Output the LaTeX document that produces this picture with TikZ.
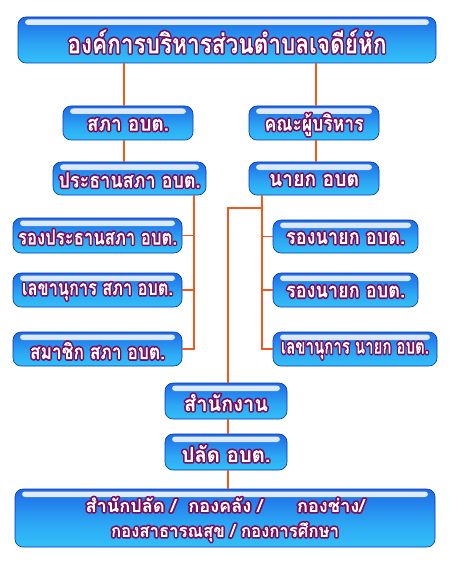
\documentclass[tikz,border=0pt]{standalone}
\usepackage{fontspec}
\usepackage{graphicx}
\newfontfamily\thai[Script=Thai]{Loma}
\usetikzlibrary{calc}
\definecolor{linec}{HTML}{EE5A1E}
\definecolor{btop}{HTML}{0632B4}
\definecolor{bmid}{HTML}{1E6AE8}
\definecolor{bbot}{HTML}{36D0FC}
\pgfdeclareverticalshading{gboxshade}{100bp}{color(0bp)=(bbot!85!btop); color(12bp)=(bbot); color(45bp)=(bbot!60!bmid); color(75bp)=(bmid); color(92bp)=(btop!70!bmid); color(100bp)=(btop)}
% outlined text: purple stroke + glyph clip (render mode 5), then white fill inside the glyphs
\newcommand\OL[2]{\raisebox{-1.5pt}[\height][\depth]{\resizebox{#1}{\height}{\color{white}\special{pdf:literal direct 5 Tr 3.4 w 1 j 1 J 0.478 0.039 0.369 RG}#2\special{pdf:content 1 g -3000 -3000 6000 6000 re f}}}}
\tikzset{
  gbox/.style={rectangle, rounded corners=8pt, draw=btop, line width=0.6pt,
    shading=gboxshade,
    inner sep=0pt, font=\thai\bfseries\fontsize{21}{23}\selectfont,
    path picture={\shade[top color=white, bottom color=white!55!bmid, opacity=0.9, rounded corners=3pt]
      ([xshift=7pt,yshift=-2.5pt]path picture bounding box.north west) rectangle
      ([xshift=-7pt,yshift=-8pt]path picture bounding box.north east);}},
  conn/.style={draw=linec, line width=1.8pt}
}
\begin{document}
\begin{tikzpicture}[x=1pt,y=-1pt]
\useasboundingbox (0,0) rectangle (450,564);
\coordinate (xa) at (124,0);
\coordinate (xb) at (316,0);
\coordinate (xl) at (194,0);
\coordinate (xr) at (262,0);
\coordinate (xc) at (228,0);
\coordinate (yj) at (0,208);
% nodes
\node[gbox, minimum width=418pt, minimum height=46pt, font=\thai\bfseries\fontsize{27}{29}\selectfont] (title) at (227,40) {\OL{319pt}{องค์การบริหารส่วนตำบลเจดีย์หัก}};
\node[gbox, minimum width=130pt, minimum height=34pt] (sapha) at (128,123) {\OL{82pt}{สภา อบต.}};
\node[gbox, minimum width=130pt, minimum height=34pt] (khana) at (314,123) {\OL{99pt}{คณะผู้บริหาร}};
\node[gbox, minimum width=153pt, minimum height=33pt] (prathan) at (129.5,178.5) {\OL{142pt}{ประธานสภา อบต.}};
\node[gbox, minimum width=130pt, minimum height=33pt] (nayok) at (314,178.5) {\OL{90pt}{นายก อบต}};
\node[gbox, minimum width=169pt, minimum height=35pt] (rp) at (97.5,235.5) {\OL{159pt}{รองประธานสภา อบต.}};
\node[gbox, minimum width=169pt, minimum height=34pt] (ls) at (97.5,290) {\OL{151pt}{เลขานุการ สภา อบต.}};
\node[gbox, minimum width=169pt, minimum height=34pt] (sm) at (97.5,349) {\OL{135pt}{สมาชิก สภา อบต.}};
\node[gbox, minimum width=145pt, minimum height=33pt] (rn1) at (345.5,236.5) {\OL{119pt}{รองนายก อบต.}};
\node[gbox, minimum width=145pt, minimum height=34pt] (rn2) at (345.5,290) {\OL{119pt}{รองนายก อบต.}};
\node[gbox, minimum width=164pt, minimum height=34pt] (ln) at (355,349) {\OL{148pt}{เลขานุการ นายก อบต.}};
\node[gbox, minimum width=122pt, minimum height=36pt] (office) at (226,401) {\OL{84pt}{สำนักงาน}};
\node[gbox, minimum width=122pt, minimum height=36pt] (palat) at (226,452) {\OL{89pt}{ปลัด อบต.}};
\node[gbox, minimum width=420pt, minimum height=58pt, align=center, font=\thai\bfseries\fontsize{18}{25}\selectfont] (bottom) at (225,518)
  {\OL{279pt}{สำนักปลัด /\hspace{12pt}กองคลัง /\hspace{34pt}กองช่าง/}\\\OL{228pt}{กองสาธารณสุข / กองการศึกษา}};
% connectors
\draw[conn] (title.south -| xa) -- (sapha.north -| xa);
\draw[conn] (sapha.south -| xa) -- (prathan.north -| xa);
\draw[conn] (title.south -| xb) -- (khana.north -| xb);
\draw[conn] (khana.south -| xb) -- (nayok.north -| xb);
\draw[conn] (prathan.south -| xl) |- (rp.east);
\draw[conn] (prathan.south -| xl) |- (ls.east);
\draw[conn] (prathan.south -| xl) |- (sm.east);
\draw[conn] (nayok.south -| xr) |- (rn1.west);
\draw[conn] (nayok.south -| xr) |- (rn2.west);
\draw[conn] (nayok.south -| xr) |- (ln.west);
\draw[conn] (yj -| xr) -| (office.north -| xc);
\draw[conn] (office.south -| xc) -- (palat.north -| xc);
\draw[conn] (palat.south -| xc) -- (bottom.north -| xc);
\end{tikzpicture}
\end{document}
